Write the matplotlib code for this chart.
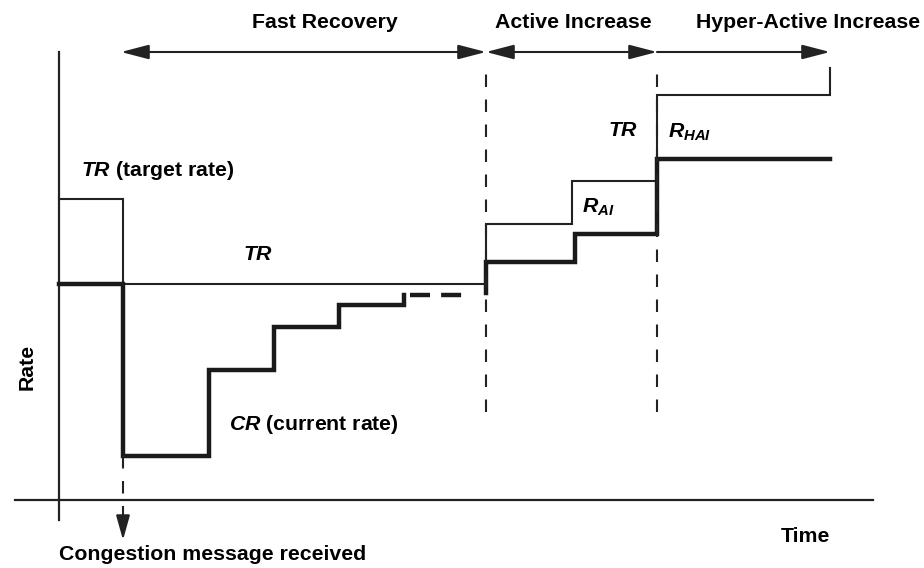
import matplotlib
matplotlib.use("Agg")
import matplotlib.pyplot as plt

plt.rcParams["font.family"] = ["Liberation Sans", "DejaVu Sans"]
plt.rcParams["font.weight"] = "bold"
plt.rcParams["mathtext.fontset"] = "custom"
plt.rcParams["mathtext.it"] = "Liberation Sans:italic:bold"
plt.rcParams["mathtext.rm"] = "Liberation Sans:bold"

# time / rate in arbitrary units (origin = axes intersection)
tr_times = [0, 64, 427, 513, 598, 771]
tr_levels = [301, 216, 276, 319, 405]
tr_end = 432

cr_times = [0, 64, 150, 215, 280, 345]
cr_levels = [216, 44, 130, 173, 195]
cr_end = 205
cr_dash_end = 409

cr_ai_start = 207
cr_ai_times = [427, 516, 598, 771]
cr_ai_levels = [238, 266, 341]

congestion_time = 64
phase_bounds = [427, 598]
phase_names = ["Fast Recovery", "Active Increase", "Hyper-Active Increase"]
phase_spans = [(62, 427), (427, 598), (598, 771)]


def step_xy(times, levels, start=None, end=None):
    """Polyline for a piecewise-constant rate; optional jumps at both ends."""
    xs, ys = [], []
    if start is not None:
        xs.append(times[0])
        ys.append(start)
    for i, lv in enumerate(levels):
        xs += [times[i], times[i + 1]]
        ys += [lv, lv]
    if end is not None:
        xs.append(times[-1])
        ys.append(end)
    return xs, ys


fig = plt.figure(figsize=(9.24, 5.68), dpi=100)
ax = fig.add_axes([0, 0, 1, 1])
ax.set_xlim(-59, 865)
ax.set_ylim(-68, 500)
ax.axis("off")

# axes
ax.plot([0, 0], [-20, 448], color="#222", lw=1.6)
ax.plot([-44, 814], [0, 0], color="#222", lw=1.6)

# target rate (thin)
xs, ys = step_xy(tr_times, tr_levels, end=tr_end)
ax.plot(xs, ys, color="#222", lw=1.5, solid_joinstyle="miter")

# current rate (thick)
xs, ys = step_xy(cr_times, cr_levels, end=cr_end)
ax.plot(xs, ys, color="#1a1a1a", lw=3.2, solid_joinstyle="miter")
ax.plot([cr_times[-1] + 6, cr_dash_end], [cr_end] * 2, color="#1a1a1a",
        lw=3.2, dashes=(4.5, 2.5))
xs, ys = step_xy(cr_ai_times, cr_ai_levels, start=cr_ai_start)
ax.plot(xs, ys, color="#1a1a1a", lw=3.2, solid_joinstyle="miter")

# phase boundaries
for b in phase_bounds:
    ax.plot([b, b], [88, 426], color="#222", lw=1.5, dashes=(6, 6))

# congestion arrow
head = "-|>,head_length=1.0,head_width=0.28"
ax.plot([congestion_time] * 2, [44, -26], color="#222", lw=1.5, dashes=(6, 6))
ax.annotate("", xy=(congestion_time, -40), xytext=(congestion_time, -24),
            arrowprops=dict(arrowstyle=head, color="#222", lw=1.5,
                            mutation_scale=15, shrinkA=0, shrinkB=0))

# phase arrows
styles = ["<|-|>,head_length=1.0,head_width=0.26",
          "<|-|>,head_length=1.0,head_width=0.26",
          "-|>,head_length=1.0,head_width=0.26"]
for (a, b), st in zip(phase_spans, styles):
    ax.annotate("", xy=(b, 448), xytext=(a, 448),
                arrowprops=dict(arrowstyle=st, color="#222", lw=1.5,
                                mutation_scale=17, shrinkA=0, shrinkB=0))
label_x = [266, 514, 749]
fs = 15.3
for x, name in zip(label_x, phase_names):
    ax.text(x, 478, name, ha="center", va="center", fontsize=fs, weight="bold")

# labels
ax.text(22, 329, r"$TR$ (target rate)", fontsize=fs, va="center")
ax.text(199, 245, r"$TR$", fontsize=fs, va="center", ha="center")
ax.text(170, 75, r"$CR$ (current rate)", fontsize=fs, va="center")
ax.text(564, 370, r"$TR$", fontsize=fs, va="center", ha="center")
ax.text(523, 293, r"$R_{AI}$", fontsize=fs, va="center")
ax.text(609, 368, r"$R_{HAI}$", fontsize=fs, va="center")
ax.text(-32, 133, "Rate", fontsize=fs, rotation=90, va="center", ha="center")
ax.text(746, -36, "Time", fontsize=fs, va="center", ha="center")
ax.text(0, -55, "Congestion message received", fontsize=fs, va="center")

fig.savefig("out.png", dpi=100)
